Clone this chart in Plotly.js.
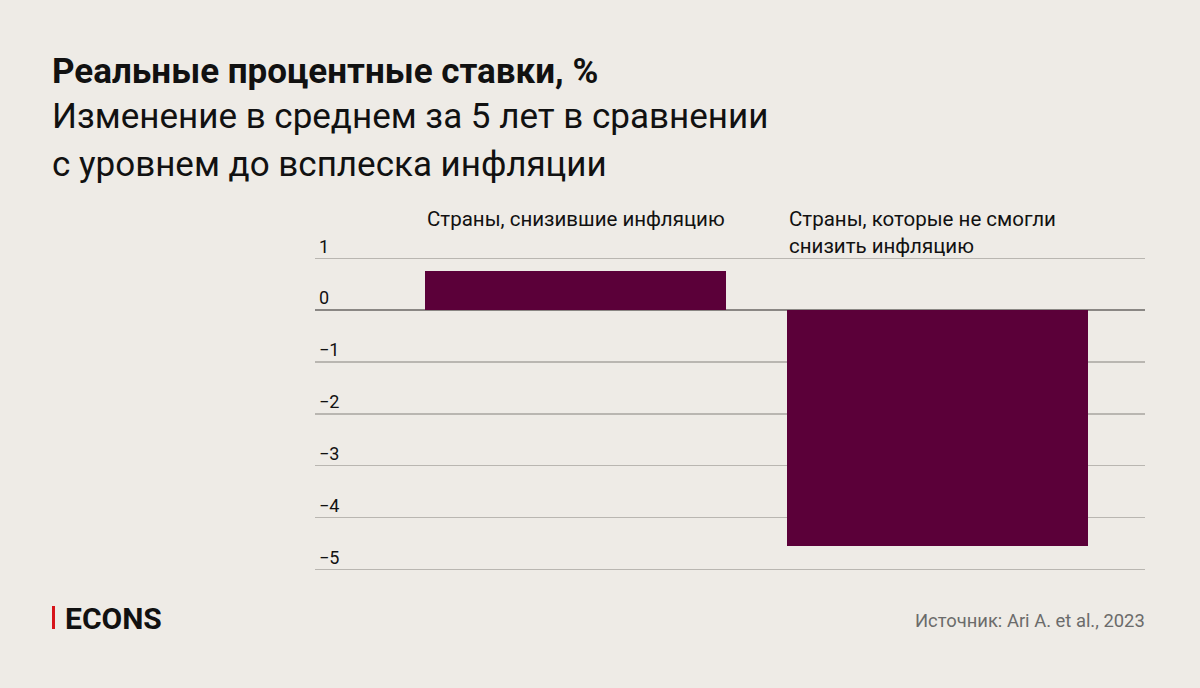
<!DOCTYPE html>
<html>
<head>
<meta charset="utf-8">
<script src="https://cdn.plot.ly/plotly-3.0.1.min.js"></script>
<style>
  html, body { margin: 0; padding: 0; background: #EEEBE6; }
  #chart { width: 1200px; height: 688px; }
</style>
</head>
<body>
<div id="chart"></div>
<script>
// Data
const categories = ["Страны, снизившие инфляцию", "Страны, которые не смогли<br>снизить инфляцию"];
const values = [0.76, -4.54];
const tickValues = [1, 0, -1, -2, -3, -4, -5];
const tickLabels = ["1", "0", "−1", "−2", "−3", "−4", "−5"];

const titleText = "Реальные процентные ставки, %";
const subtitleLines = ["Изменение в среднем за 5 лет в сравнении", "с уровнем до всплеска инфляции"];
const sourceText = "Источник: Ari A. et al., 2023";

// Layout geometry (pixels)
const W = 1200, H = 688;
const L = 315, R = 55, T = 235, B = 116;
const pw = W - L - R, ph = H - T - B;
const px = x => (x - L) / pw;
const py = y => (H - B - y) / ph;

const barWidth = 0.83;
const FONT = "Roboto, 'Liberation Sans', sans-serif";

const trace = {
  type: "bar",
  x: [0, 1],
  y: values,
  width: barWidth,
  marker: { color: "#5B0039" },
  hoverinfo: "none"
};

const annotations = [];
annotations.push({
  xref: "paper", yref: "paper", x: px(50), y: py(71),
  xanchor: "left", yanchor: "middle", showarrow: false,
  text: "<b>" + titleText + "</b>",
  font: { family: FONT, size: 35, color: "#111" }
});
subtitleLines.forEach((s, i) => {
  annotations.push({
    xref: "paper", yref: "paper", x: px(50), y: py(117 + i * 47),
    xanchor: "left", yanchor: "middle", showarrow: false,
    text: s,
    font: { family: FONT, size: 35, color: "#111" }
  });
});
categories.forEach((c, i) => {
  annotations.push({
    xref: "x", yref: "paper", x: i - barWidth / 2, y: py(205),
    xanchor: "left", yanchor: "top", align: "left", showarrow: false,
    text: c,
    font: { family: FONT, size: 20.5, color: "#111" }
  });
});
annotations.push({
  xref: "paper", yref: "paper", x: px(63), y: py(618),
  xanchor: "left", yanchor: "middle", showarrow: false,
  text: "<b>ECONS</b>",
  font: { family: FONT, size: 30, color: "#111" }
});
annotations.push({
  xref: "paper", yref: "paper", x: px(1147), y: py(620),
  xanchor: "right", yanchor: "middle", showarrow: false,
  text: sourceText,
  font: { family: FONT, size: 18.4, color: "#6b6b6b" }
});

const layout = {
  width: W, height: H,
  margin: { l: L, r: R, t: T, b: B, pad: 0 },
  paper_bgcolor: "#EEEBE6",
  plot_bgcolor: "#EEEBE6",
  showlegend: false,
  bargap: 0,
  xaxis: {
    range: [-0.7196, 1.573],
    showgrid: false, zeroline: false, showticklabels: false, ticks: "",
    fixedrange: true
  },
  yaxis: {
    range: [-5.05, 1.45],
    tickvals: tickValues,
    ticktext: tickLabels,
    ticklabelposition: "inside",
    ticklabelshift: -12,
    ticklabelstandoff: 1,
    ticks: "",
    showgrid: true, gridcolor: "#B9B6B1", gridwidth: 1.5,
    zeroline: true, zerolinecolor: "#8A8784", zerolinewidth: 1.5,
    tickfont: { family: FONT, size: 18, color: "#111" },
    fixedrange: true
  },
  shapes: [{
    type: "rect", xref: "paper", yref: "paper",
    x0: px(52), x1: px(55), y0: py(606), y1: py(629),
    fillcolor: "#D7141A", line: { width: 0 }
  }],
  annotations: annotations
};

Plotly.newPlot("chart", [trace], layout, { displayModeBar: false, staticPlot: true });
</script>
</body>
</html>
